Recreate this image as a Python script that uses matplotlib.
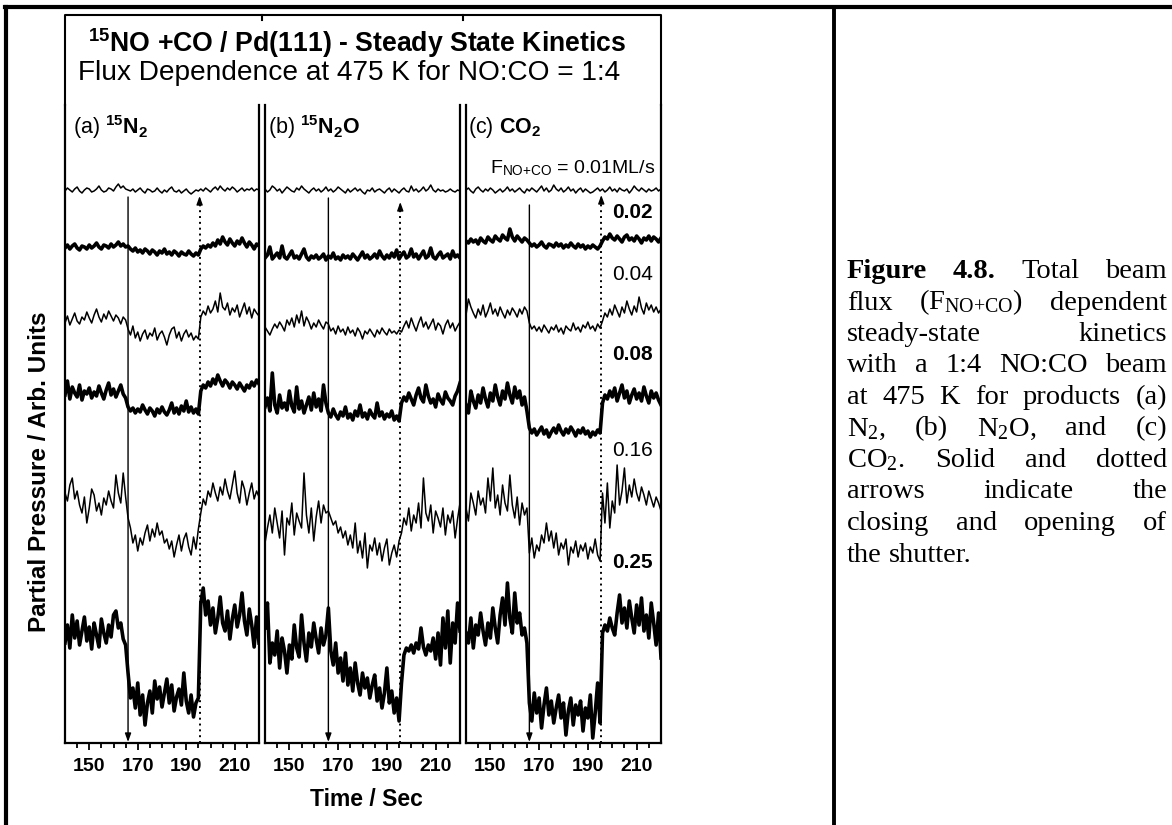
import numpy as np
import matplotlib
matplotlib.use("Agg")
import matplotlib.pyplot as plt
from matplotlib.lines import Line2D

plt.rcParams["font.family"] = ["Liberation Sans", "DejaVu Sans"]
plt.rcParams["mathtext.fontset"] = "custom"
plt.rcParams["mathtext.rm"] = "Liberation Serif"
plt.rcParams["mathtext.it"] = "Liberation Serif:italic"
plt.rcParams["mathtext.sf"] = "Liberation Sans"
plt.rcParams["mathtext.bf"] = "Liberation Sans:bold"

# ---- data ----
TIME = np.arange(140, 221)          # s, one sample per second
SHUT_CLOSE = 166                    # solid arrow
SHUT_OPEN = 195.5                   # dotted arrow
FLUX = ["0.01", "0.02", "0.04", "0.08", "0.16", "0.25"]   # ML/s

# (a) 15N2 partial pressure, arb. units
N2_001 = [22, 25, 23, 21, 24, 26, 22, 20, 23, 25, 24, 21, 22, 24, 27, 23, 21, 22, 25, 24, 22, 26, 29, 25, 27, 24,
          23, 22, 24, 21, 23, 25, 22, 20, 24, 23, 21, 22, 25, 22, 20, 23, 21, 24, 26, 22, 21, 23, 20, 22, 24, 21, 19, 21, 23, 22,
          24, 22, 25, 23, 21, 24, 26, 23, 27, 24, 22, 25, 23, 26, 24, 21, 23, 25, 22, 24, 23, 25, 22, 24, 23]
N2_002 = [25, 28, 24, 27, 29, 25, 23, 27, 26, 24, 28, 25, 27, 30, 26, 24, 28, 27, 25, 29, 26, 28, 31, 27, 29, 26,
          27, 24, 22, 25, 21, 23, 20, 24, 22, 19, 23, 21, 18, 22, 20, 24, 19, 21, 18, 22, 20, 17, 21, 19, 18, 22, 19, 17, 20, 18,
          24, 27, 25, 28, 26, 30, 27, 33, 29, 36, 31, 28, 34, 30, 27, 32, 29, 35, 30, 26, 31, 28, 24, 29, 27]
N2_004 = [30, 37, 28, 34, 40, 32, 29, 36, 33, 41, 35, 30, 38, 44, 36, 31, 39, 34, 42, 37, 32, 38, 35, 29, 36, 33,
          24, 18, 27, 15, 21, 12, 19, 23, 14, 20, 17, 25, 13, 19, 22, 16, 8, 18, 24, 26, 15, 21, 12, 19, 23, 16, 20, 13, 17, 14,
          36, 42, 38, 47, 40, 44, 52, 41, 60, 46, 43, 50, 38, 45, 41, 48, 36, 43, 50, 39, 46, 35, 44, 40, 37]
N2_008 = [48, 62, 44, 56, 50, 46, 58, 43, 52, 49, 55, 45, 51, 47, 57, 50, 44, 53, 60, 48, 54, 46, 52, 58, 49, 45,
          36, 32, 35, 30, 34, 31, 38, 33, 29, 35, 32, 27, 34, 30, 36, 31, 28, 33, 40, 30, 35, 29, 37, 32, 42, 31, 36, 30, 34, 29,
          52, 58, 55, 61, 57, 64, 59, 68, 62, 57, 63, 60, 55, 61, 58, 54, 60, 56, 52, 58, 55, 61, 57, 63, 59]
N2_016 = [70, 62, 78, 85, 64, 72, 58, 50, 66, 40, 55, 74, 68, 52, 60, 48, 65, 58, 72, 62, 55, 88, 70, 60, 90, 66,
          45, 35, 20, 28, 12, 25, 18, 30, 38, 22, 34, 26, 40, 28, 32, 20, 24, 14, 22, 6, 18, 28, 12, 24, 30, 16, 8, 26, 14, 34,
          50, 64, 58, 72, 66, 80, 70, 62, 76, 68, 84, 72, 64, 78, 92, 70, 60, 82, 74, 58, 70, 80, 64, 72, 66]
N2_025 = [100, 118, 95, 128, 105, 122, 98, 112, 126, 102, 116, 94, 120, 108, 96, 124, 110, 100, 118, 106, 128, 132, 115, 120, 104, 98,
          70, 45, 55, 35, 60, 28, 48, 18, 40, 52, 30, 62, 44, 56, 36, 50, 64, 40, 58, 32, 46, 54, 38, 70, 42, 30, 48, 26, 40, 45,
          140, 155, 128, 142, 118, 135, 110, 125, 146, 120, 112, 132, 104, 124, 138, 116, 128, 150, 122, 108, 134, 118, 96, 126, 100]

# (b) 15N2O
N2O_001 = [24, 21, 23, 27, 25, 22, 24, 20, 23, 26, 24, 22, 21, 25, 23, 27, 24, 22, 20, 23, 25, 22, 24, 21, 23, 26,
           22, 24, 21, 23, 26, 24, 22, 20, 24, 21, 23, 25, 22, 24, 21, 19, 23, 22, 25, 21, 23, 24, 22, 20, 23, 25, 21, 24, 22, 20,
           23, 25, 22, 21, 27, 22, 24, 21, 23, 26, 22, 24, 28, 23, 21, 24, 22, 23, 21, 22, 24, 22, 21, 23, 22]
N2O_002 = [15, 18, 26, 14, 17, 20, 15, 27, 16, 14, 18, 22, 15, 17, 14, 19, 24, 16, 13, 17, 15, 18, 14, 16, 19, 13,
           17, 15, 20, 14, 16, 13, 18, 15, 17, 14, 19, 16, 13, 17, 21, 15, 18, 14, 16, 19, 15, 22, 17, 14, 18, 15, 20, 16, 23, 14,
           18, 21, 15, 17, 24, 16, 19, 14, 18, 22, 15, 17, 25, 16, 14, 18, 21, 15, 17, 19, 14, 22, 16, 18, 15]
N2O_004 = [26, 22, 18, 24, 29, 25, 31, 27, 22, 33, 28, 35, 26, 38, 30, 42, 27, 36, 31, 24, 30, 26, 33, 28, 24, 31,
           29, 22, 25, 19, 27, 21, 24, 18, 26, 20, 23, 17, 25, 21, 14, 22, 19, 24, 20, 16, 23, 19, 25, 21, 18, 24, 20, 22, 19, 23,
           21, 27, 32, 25, 35, 28, 22, 30, 36, 26, 31, 24, 29, 34, 23, 30, 27, 19, 28, 33, 25, 30, 22, 27, 31]
N2O_008 = [36, 45, 32, 70, 38, 30, 48, 35, 40, 33, 52, 37, 31, 56, 34, 42, 30, 38, 46, 33, 50, 36, 44, 32, 58, 40,
           30, 26, 34, 28, 24, 31, 27, 36, 25, 29, 23, 32, 27, 38, 26, 30, 24, 33, 28, 25, 40, 27, 31, 24, 29, 26, 32, 23, 27, 22,
           40, 46, 42, 50, 44, 38, 48, 55, 45, 41, 58, 47, 40, 44, 36, 49, 43, 39, 51, 45, 42, 38, 47, 52, 60]
N2O_016 = [20, 35, 48, 30, 55, 40, 25, 52, 8, 45, 38, 60, 28, 50, 42, 35, 90, 48, 30, 55, 22, 46, 62, 40, 58, 50,
           52, 45, 38, 42, 30, 36, 25, 32, 18, 28, 15, 40, 10, 22, 5, 30, -5, 18, 12, 25, 8, 20, 2, 15, 24, -2, 10, 18, 6, 22,
           30, 45, 38, 55, 32, 48, 40, 60, 35, 85, 50, 42, 58, 30, 52, 45, 36, 55, 28, 48, 40, 52, 25, 44, 60]
N2O_025 = [115, 140, 80, 100, 88, 112, 75, 105, 92, 70, 98, 84, 118, 95, 86, 128, 100, 82, 110, 96, 120, 104, 90, 115, 98, 108,
           135, 92, 78, 100, 70, 85, 62, 90, 58, 75, 52, 80, 60, 48, 70, 55, 65, 45, 58, 68, 42, 55, 35, 50, 75, 40, 52, 30, 45, 22,
           60, 88, 95, 92, 98, 90, 100, 94, 115, 96, 88, 98, 92, 105, 84, 110, 78, 125, 95, 132, 80, 120, 100, 140, 112]

# (c) CO2
CO2_001 = [23, 25, 22, 20, 24, 26, 23, 21, 24, 22, 25, 23, 20, 22, 24, 21, 23, 26, 22, 24, 21, 23, 25, 22, 20, 24,
           22, 25, 23, 21, 24, 27, 22, 25, 21, 23, 28, 24, 22, 25, 21, 23, 26, 22, 24, 20, 23, 25, 21, 24, 22, 20, 21, 23, 25, 22,
           24, 21, 23, 26, 22, 24, 21, 25, 23, 22, 24, 20, 23, 27, 24, 22, 25, 23, 21, 24, 22, 23, 25, 22, 24]
CO2_002 = [32, 30, 34, 31, 33, 29, 35, 32, 30, 36, 33, 31, 37, 34, 32, 38, 35, 33, 44, 36, 32, 37, 34, 31, 35, 33,
           30, 27, 29, 26, 28, 31, 27, 25, 29, 28, 26, 30, 27, 29, 25, 28, 26, 30, 27, 25, 29, 26, 28, 24, 27, 25, 28, 26, 24, 27,
           32, 36, 34, 39, 35, 33, 37, 34, 31, 36, 38, 33, 35, 32, 37, 34, 30, 35, 33, 37, 32, 36, 34, 31, 35]
CO2_004 = [38, 54, 46, 40, 35, 44, 38, 48, 36, 42, 50, 39, 44, 37, 46, 40, 35, 43, 38, 45, 41, 36, 44, 39, 46, 42,
           30, 24, 27, 22, 26, 21, 28, 24, 20, 26, 23, 28, 21, 25, 19, 27, 24, 22, 30, 23, 26, 21, 28, 25, 31, 24, 27, 22, 29, 25,
           32, 40, 36, 44, 38, 48, 42, 36, 46, 40, 52, 44, 38, 47, 41, 56, 45, 39, 50, 43, 48, 41, 46, 40, 44]
CO2_008 = [38, 30, 52, 42, 35, 48, 40, 55, 44, 36, 50, 42, 58, 46, 38, 52, 44, 60, 48, 40, 56, 45, 52, 38, 46, 32,
           15, 10, 14, 8, 12, 16, 9, 13, 6, 11, 15, 10, 18, 12, 8, 14, 10, 16, 12, 7, 13, 10, 15, 9, 12, 6, 11, 8, 13, 10,
           40, 48, 44, 52, 46, 55, 42, 50, 58, 45, 52, 40, 48, 54, 44, 50, 42, 56, 47, 40, 52, 45, 50, 43, 38]
CO2_016 = [55, 42, 70, 60, 48, 72, 58, 65, 50, 85, 62, 95, 55, 68, 48, 78, 60, 52, 88, 58, 45, 66, 38, 60, 48, 55,
           10, 25, 5, 18, 12, 28, 20, 40, 22, 32, 15, 30, 8, 20, 14, 24, -2, 16, 10, 22, 6, 18, 12, 20, 4, 16, 10, 24, 8, 2,
           70, 40, 80, 35, 62, 50, 98, 58, 72, 95, 60, 78, 66, 84, 70, 62, 76, 68, 58, 72, 64, 56, 66, 60, 52]
CO2_025 = [110, 100, 125, 95, 118, 108, 130, 112, 98, 120, 105, 135, 115, 100, 128, 145, 118, 160, 125, 110, 150, 120, 130, 108, 115, 100,
           40, 22, 50, 30, 45, 15, 38, 55, 28, 42, 20, 35, 48, 25, 40, 8, 32, 45, 18, 38, 28, 42, 12, 35, 25, 48, 5, 30, 60, 20,
           110, 118, 112, 125, 115, 108, 130, 148, 120, 135, 115, 142, 125, 110, 138, 118, 145, 112, 128, 105, 140, 120, 98, 130, 85]

N2 = [N2_001, N2_002, N2_004, N2_008, N2_016, N2_025]
N2O = [N2O_001, N2O_002, N2O_004, N2O_008, N2O_016, N2O_025]
CO2 = [CO2_001, CO2_002, CO2_004, CO2_008, CO2_016, CO2_025]

PANEL_LABELS = [r"(a) $\mathbf{{}^{15}N_{2}}$", r"(b) $\mathbf{{}^{15}N_{2}O}$", r"(c) $\mathbf{CO_{2}}$"]

CAPTION = [
    ["Figure", "4.8.", "Total", "beam"],
    ["flux", r"(F$_{\mathrm{NO{+}CO}}$)", "dependent"],
    ["steady-state", "kinetics"],
    ["with", "a", "1:4", "NO:CO", "beam"],
    ["at", "475", "K", "for", "products", "(a)"],
    [r"N$_{\mathrm{2}}$,", "(b)", r"N$_{\mathrm{2}}$O,", "and", "(c)"],
    [r"CO$_{\mathrm{2}}$.", "Solid", "and", "dotted"],
    ["arrows", "indicate", "the"],
    ["closing", "and", "opening", "of"],
    ["the", "shutter."],
]

# ---- layout ----
W, H = 1172, 825
fig = plt.figure(figsize=(W / 100, H / 100), dpi=100)


def fx(px):
    return px / W


def fy(py):
    return 1 - py / H


def fig_line(x, y, **kw):
    fig.add_artist(Line2D([fx(v) for v in x], [fy(v) for v in y],
                          transform=fig.transFigure, color="k", **kw))


panel_px = [(65, 259), (265, 460), (466, 661)]
top_px, bot_px = 105, 743
offsets = [530, 470, 390, 300, 180, 0]
widths = [1.1, 2.6, 1.1, 2.6, 1.1, 2.6]
solid_top = [197, 198, 205]
dotted_top = [196, 202, 195]

for k, (series, (l, r)) in enumerate(zip([N2, N2O, CO2], panel_px)):
    ax = fig.add_axes([fx(l), fy(bot_px), (r - l) / W, (bot_px - top_px) / H])
    ax.set_xlim(140, 220)
    ax.set_ylim(0, bot_px - top_px)
    ax.spines["top"].set_visible(False)
    for s in ("left", "right", "bottom"):
        ax.spines[s].set_linewidth(1.6)
    ax.set_yticks([])
    ax.set_xticks([150, 170, 190, 210])
    ax.set_xticks(np.arange(145, 220, 5), minor=True)
    ax.tick_params(axis="x", which="major", direction="out", length=5, width=1.3,
                   pad=6, labelsize=14)
    ax.tick_params(axis="x", which="minor", direction="out", length=3.5, width=1.3)
    for lab in ax.get_xticklabels():
        lab.set_fontweight("bold")

    for vals, off, lw in zip(series, offsets, widths):
        ax.plot(TIME, np.asarray(vals) + off, color="k", lw=lw, zorder=3)

    # shutter closing (solid, arrow down) and opening (dotted, arrow up)
    ys = bot_px - solid_top[k]
    ax.annotate("", xy=(SHUT_CLOSE, 1), xytext=(SHUT_CLOSE, ys),
                arrowprops=dict(arrowstyle="-|>,head_length=0.5,head_width=0.18",
                                color="k", lw=1.0, shrinkA=0, shrinkB=0), zorder=2)
    yd = bot_px - dotted_top[k]
    ax.plot([SHUT_OPEN, SHUT_OPEN], [0, yd - 6], color="k", lw=1.4,
            ls=(0, (1, 2)), zorder=2)
    ax.annotate("", xy=(SHUT_OPEN, yd), xytext=(SHUT_OPEN, yd - 7),
                arrowprops=dict(arrowstyle="-|>,head_length=0.5,head_width=0.18",
                                color="k", lw=1.0, shrinkA=0, shrinkB=0), zorder=2)

    ax.text([143.3, 141.2, 140.8][k], bot_px - 127, PANEL_LABELS[k],
            fontsize=15.5, ha="left", va="center")

    if k == 2:
        ax.text(149.8, bot_px - 168, r"F$_{\mathsf{NO{+}CO}}$ = 0.01ML/s",
                fontsize=14, ha="left", va="center")
        label_y = [213, 274, 355, 450, 562]
        for flux, py in zip(FLUX[1:], label_y):
            bold = flux in ("0.02", "0.08", "0.25")
            ax.text(216.7, bot_px - py, flux, fontsize=15, ha="right", va="center",
                    fontweight="bold" if bold else "normal")

# outer frame above the panels
fig_line([65, 65, 661, 661], [105, 15, 15, 105], lw=1.5)
for xn in (262, 463):
    fig_line([xn, xn], [15, 20], lw=1.5)

# titles and axis labels
fig.text(fx(357), fy(43), r"$\mathbf{{}^{15}}$NO +CO / Pd(111) - Steady State Kinetics",
         fontsize=19.2, fontweight="bold", ha="center", va="center")
fig.text(fx(349), fy(73), "Flux Dependence at 475 K for NO:CO = 1:4",
         fontsize=20.2, ha="center", va="center")
fig.text(fx(40), fy(632), "Partial Pressure / Arb. Units", fontsize=17.5,
         fontweight="bold", rotation=90, ha="center", va="bottom")
fig.text(fx(366), fy(800), "Time / Sec", fontsize=16.5, fontweight="bold",
         ha="center", va="center")

# table borders of the document
fig_line([5, W], [7, 7], lw=3)
fig_line([6, 6], [7, H], lw=3)
fig_line([834, 834], [7, H], lw=2.8)

# justified caption
renderer = fig.canvas.get_renderer()
x_left, x_right = 847, 1167
base0, pitch = 278, 31.5
for i, words in enumerate(CAPTION):
    y = base0 + i * pitch
    texts = []
    for j, w in enumerate(words):
        weight = "bold" if (i == 0 and j < 2) else "normal"
        texts.append(fig.text(0, fy(y), w, family="Liberation Serif", fontsize=20.5,
                              fontweight=weight, ha="left", va="baseline"))
    wpx = [t.get_window_extent(renderer).width for t in texts]
    if i == len(CAPTION) - 1:
        gap = 7
    else:
        gap = (x_right - x_left - sum(wpx)) / (len(words) - 1)
    x = x_left
    for t, w in zip(texts, wpx):
        t.set_x(fx(x))
        x += w + gap

fig.savefig("out.png", dpi=100)
